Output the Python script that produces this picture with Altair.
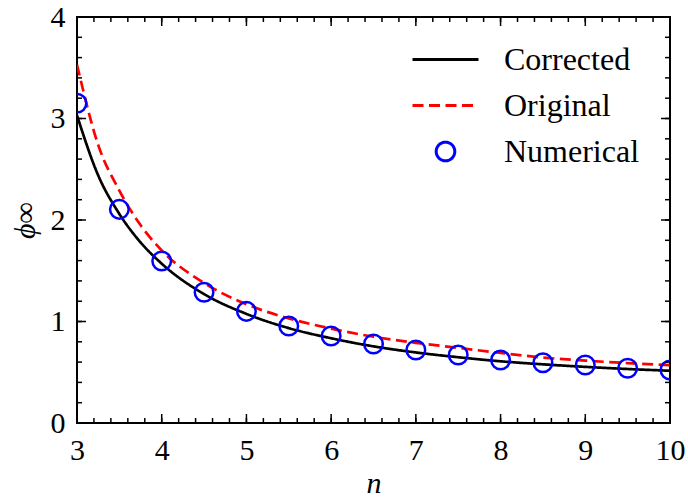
import altair as alt
import pandas as pd

# ---- data ----
n_curve = [3.0, 3.25, 3.5, 3.75, 4.0, 4.5, 5.0, 5.5, 6.0, 6.5, 7.0, 7.5, 8.0, 8.5, 9.0, 9.5, 10.0]
corrected = [3.03, 2.44, 2.06, 1.78, 1.57, 1.27, 1.075, 0.935, 0.835, 0.755, 0.695, 0.648, 0.608, 0.578, 0.553, 0.532, 0.515]
original = [3.53, 2.74, 2.29, 1.95, 1.70, 1.38, 1.17, 1.03, 0.93, 0.85, 0.79, 0.74, 0.69, 0.645, 0.615, 0.59, 0.57]

n_num = [3.0, 3.5, 4.0, 4.5, 5.0, 5.5, 6.0, 6.5, 7.0, 7.5, 8.0, 8.5, 9.0, 9.5, 10.0]
numerical = [3.15, 2.105, 1.596, 1.288, 1.10, 0.955, 0.857, 0.778, 0.719, 0.67, 0.62, 0.594, 0.571, 0.539, 0.522]

series_names = ["Corrected", "Original", "Numerical"]
series_colors = ["#000000", "#ff0000", "#0000ff"]

x_major = [3, 4, 5, 6, 7, 8, 9, 10]
y_major = [0, 1, 2, 3, 4]
x_minor = [round(3 + 0.2 * i, 1) for i in range(36)]
y_minor = [round(0.2 * i, 1) for i in range(21)]

lines_df = pd.DataFrame({
    "n": n_curve + n_curve,
    "phi": corrected + original,
    "series": ["Corrected"] * len(n_curve) + ["Original"] * len(n_curve),
})
points_df = pd.DataFrame({"n": n_num, "phi": numerical, "series": ["Numerical"] * len(n_num)})

W, H = 593, 406
FONT = "Liberation Serif"
FS = 30
MAJOR_LEN, MINOR_LEN = 9, 5

line_path = "M-2.2,0H2.2"
circle_path = "M0.62,0A0.62,0.62,0,1,1,-0.62,0A0.62,0.62,0,1,1,0.62,0Z"

x_scale = alt.Scale(domain=[3, 10], nice=False, zero=False)
y_scale = alt.Scale(domain=[0, 4], nice=False, zero=False)
color_scale = alt.Scale(domain=series_names, range=series_colors)
dash_scale = alt.Scale(domain=series_names, range=[[1, 0], [11, 5.5], [1, 0]])
shape_scale = alt.Scale(domain=series_names, range=[line_path, line_path, circle_path])

legend = alt.Legend(
    title=None, orient="none", legendX=352, legendY=26, padding=0,
    symbolSize=900, symbolStrokeWidth=3, symbolOffset=0,
    labelFont=FONT, labelFontSize=32, labelColor="black", labelOffset=42,
    rowPadding=13,
)

x_lab_axis = alt.Axis(orient="bottom", values=x_major, format="d", ticks=False, tickSize=0, domain=False,
                      grid=False, labelFont=FONT, labelFontSize=FS, labelColor="black", labelPadding=12,
                      labelFlush=False, title="n", titleFont=FONT, titleFontSize=FS,
                      titleFontStyle="italic", titleFontWeight="normal", titleColor="black",
                      titleBaseline="alphabetic", titleY=69)
y_lab_axis = alt.Axis(orient="left", values=y_major, format="d", ticks=False, tickSize=0, domain=False,
                      grid=False, labelFont=FONT, labelFontSize=FS, labelColor="black", labelPadding=12,
                      labelFlush=False, title="ϕ∞", titleFont=FONT, titleFontSize=FS,
                      titleFontStyle="italic", titleFontWeight="normal", titleColor="black", titlePadding=10)

lines = alt.Chart(lines_df).mark_line(strokeWidth=2.7, clip=True, interpolate="monotone").encode(
    x=alt.X("n:Q", scale=x_scale, axis=x_lab_axis),
    y=alt.Y("phi:Q", scale=y_scale, axis=y_lab_axis),
    color=alt.Color("series:N", scale=color_scale, legend=legend),
    strokeDash=alt.StrokeDash("series:N", scale=dash_scale, legend=legend),
)

points = alt.Chart(points_df).mark_point(filled=False, strokeWidth=2.5, size=900, opacity=1, clip=True).encode(
    x=alt.X("n:Q", scale=x_scale, axis=None),
    y=alt.Y("phi:Q", scale=y_scale, axis=None),
    color=alt.Color("series:N", scale=color_scale, legend=legend),
    shape=alt.Shape("series:N", scale=shape_scale, legend=legend),
)


# inward frame ticks (major + minor) on all four sides, placed through the x / y scales
def x_ticks(values, length, edge):
    y0, y1 = (H, H - length) if edge == "bottom" else (0, length)
    return alt.Chart(pd.DataFrame({"v": values})).mark_rule(color="black", strokeWidth=1.5).encode(
        x=alt.X("v:Q", scale=x_scale, axis=None), y=alt.value(y0), y2=alt.value(y1))


def y_ticks(values, length, edge):
    x0, x1 = (0, length) if edge == "left" else (W, W - length)
    return alt.Chart(pd.DataFrame({"v": values})).mark_rule(color="black", strokeWidth=1.5).encode(
        y=alt.Y("v:Q", scale=y_scale, axis=None), x=alt.value(x0), x2=alt.value(x1))


tick_layers = []
for edge in ("bottom", "top"):
    tick_layers.append(x_ticks(x_minor, MINOR_LEN, edge))
    tick_layers.append(x_ticks(x_major, MAJOR_LEN, edge))
for edge in ("left", "right"):
    tick_layers.append(y_ticks(y_minor, MINOR_LEN, edge))
    tick_layers.append(y_ticks(y_major, MAJOR_LEN, edge))

chart = alt.layer(lines, points, *tick_layers).resolve_axis(
    x="independent", y="independent"
).properties(
    width=W, height=H, autosize="none",
    padding={"left": 77, "top": 17, "right": 18, "bottom": 75},
    background="white",
).configure_view(stroke="black", strokeWidth=2)

chart.save("out.html", embed_options={"renderer": "svg", "actions": False})
